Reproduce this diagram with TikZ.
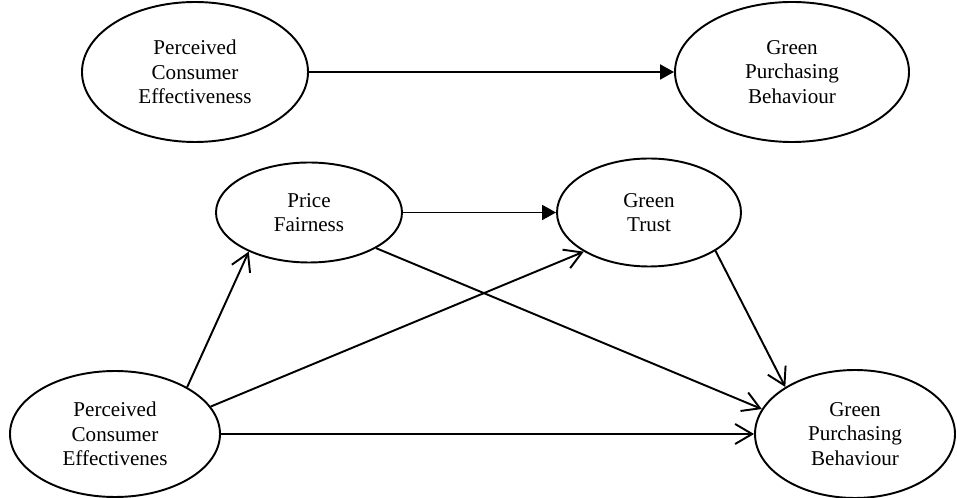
\documentclass[tikz,border=0pt]{standalone}
\usepackage{fontspec}
\setmainfont{Liberation Serif}
\usetikzlibrary{arrows.meta}
\usetikzlibrary{shapes}
\tikzset{
        constructnode/.style={align=center,inner sep=0pt},
        % Latent constructs
        node_construct/.style={constructnode, ellipse, draw=black, line width=1.1pt, fill=white, font=\fontsize{12}{13.8}\selectfont},
        % Direct effect (filled head)
        path_direct/.style={line width=1.1pt, -{Triangle[length=2.8mm,width=3mm]}},
        % Mediated model paths (open head)
        path_open/.style={line width=1.1pt, -{Straight Barb[length=3.4mm,width=4mm]}}
}
\begin{document}
\begin{tikzpicture}
            \useasboundingbox (0,0) rectangle (19.14,9.96);
            % direct model
            \node[node_construct, minimum width=4.52cm, minimum height=2.80cm] (pce_top) at (3.90,8.52) {Perceived\\Consumer\\Effectiveness};
            \node[node_construct, minimum width=4.68cm, minimum height=2.80cm] (gpb_top) at (15.84,8.52) {Green\\Purchasing\\Behaviour};
            % mediated model
            \node[node_construct, minimum width=3.72cm, minimum height=2.00cm] (pf) at (6.18,5.71) {Price\\Fairness};
            \node[node_construct, minimum width=3.68cm, minimum height=2.16cm] (gt) at (12.98,5.71) {Green\\Trust};
            \node[node_construct, minimum width=4.20cm, minimum height=2.52cm] (pce) at (2.30,1.28) {Perceived\\Consumer\\Effectivenes};
            \node[node_construct, minimum width=4.00cm, minimum height=2.56cm] (gpb) at (17.10,1.28) {Green\\Purchasing\\Behaviour};

            \draw[path_direct] (pce_top.east) -- (gpb_top.west);
            \draw[path_direct] (pf.east) -- (gt.west);
            \draw[path_open] (pce.33) -- (pf.213);
            \draw[path_open] (pce.16) -- (gt.211);
            \draw[path_open] (pce.east) -- (gpb.west);
            \draw[path_open] (pf.332) -- (gpb.165);
            \draw[path_open] (gt.330) -- (gpb.146);
\end{tikzpicture}
\end{document}
